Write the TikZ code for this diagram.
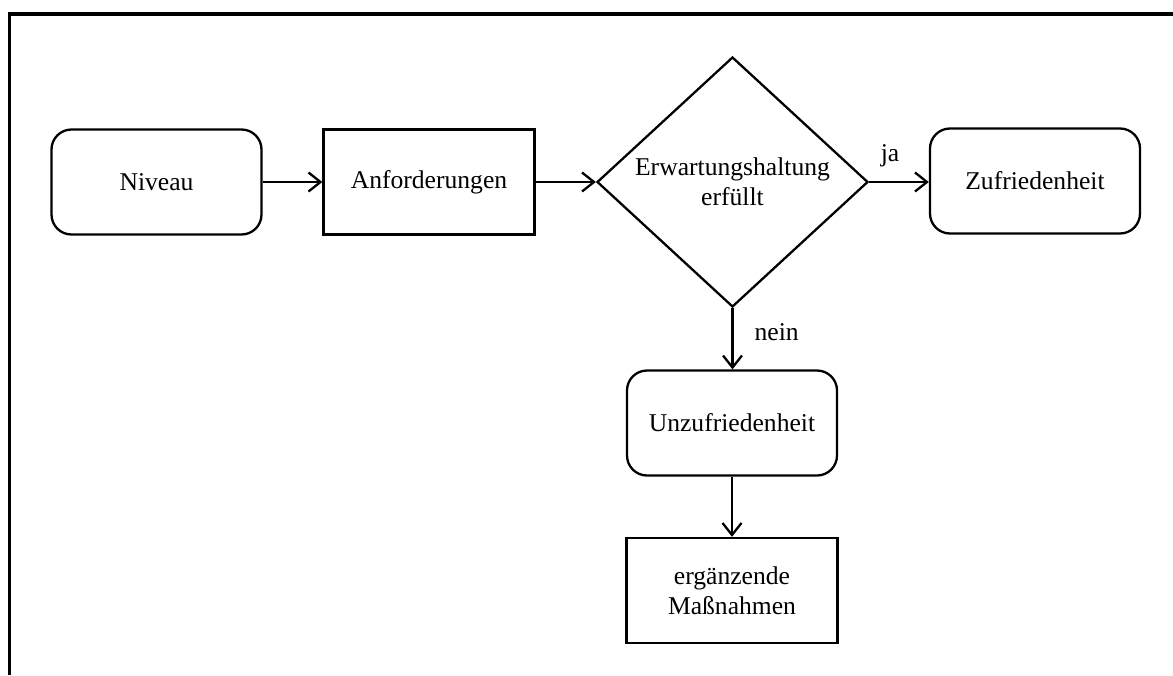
\documentclass[tikz,border=0pt]{standalone}
\usepackage{fontspec}
\setmainfont{Liberation Serif}
\usetikzlibrary{shapes.geometric,arrows.meta}
\begin{document}
\begin{tikzpicture}[x=1pt,y=-1pt,
  every node/.style={font=\fontsize{25.6}{30}\selectfont, align=center, inner sep=0pt},
  roundbox/.style={draw, line width=2.3pt, rounded corners=20pt, minimum width=210pt, minimum height=105pt},
  plainbox/.style={draw, line width=2.3pt, minimum width=211pt, minimum height=105pt},
  decision/.style={draw, line width=2.3pt, diamond, minimum width=271pt, minimum height=250pt},
  flow/.style={line width=2.3pt, -{Straight Barb[length=12pt,width=19pt,line width=2.3pt]}},
  frame/.style={line width=3.2pt}
]
\useasboundingbox (0,0) rectangle (1173,675);

% outer frame (top and left edges)
\coordinate (fa) at (9.5,675);
\coordinate (fb) at (9.5,14);
\coordinate (fc) at (1173,14);
\draw[frame] (fa) -- (fb) -- (fc);

\node[roundbox] (niveau) at (156.5,182) {Niveau};
\node[plainbox] (anf) at (429,182) {Anforderungen};
\node[decision] (dec) at (732.5,182) {Erwartungshaltung\\erfüllt};
\node[roundbox] (zuf) at (1035,181) {Zufriedenheit};
\node[roundbox] (unzuf) at (732,423) {Unzufriedenheit};
\node[plainbox] (mass) at (732,590.5) {ergänzende\\Maßnahmen};

\draw[flow] (niveau) -- (anf);
\draw[flow] (anf) -- (dec.west);
\draw[flow] (dec.east) -- node[above, yshift=14pt, xshift=-9pt] (ja) {ja} (zuf.west |- dec.east);
\draw[flow] (dec.south) -- node[right, xshift=21pt, yshift=7pt] (nein) {nein} (unzuf.north -| dec.south);
\draw[flow] (unzuf) -- (mass);
\end{tikzpicture}
\end{document}
